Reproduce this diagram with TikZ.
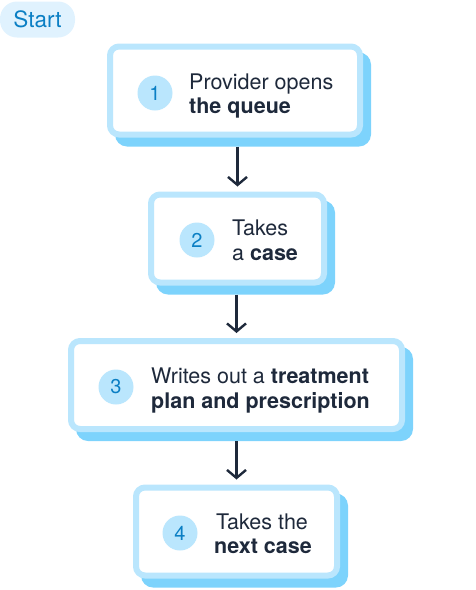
\documentclass[tikz,border=0pt]{standalone}
\usepackage{fontspec}
\setmainfont{TeX Gyre Heros}
\usetikzlibrary{arrows.meta}
\definecolor{skyA}{HTML}{E0F2FE}
\definecolor{skyB}{HTML}{BAE6FD}
\definecolor{skyC}{HTML}{7DD3FC}
\definecolor{numc}{HTML}{0B7FC4}
\definecolor{ink}{HTML}{1E293B}
\tikzset{
  shadowbox/.style={fill=skyC, rounded corners=12pt, inner sep=0pt, minimum width=#1+6pt, minimum height=94pt},
  mainbox/.style={fill=white, draw=skyB, line width=6pt, rounded corners=9pt, inner sep=0pt, minimum width=#1, minimum height=88pt},
  numdot/.style={circle, fill=skyB, minimum size=35pt, inner sep=0pt, text=numc, font=\fontsize{20}{20}\selectfont},
  linetxt/.style={anchor=base west, inner sep=0pt, text=ink, font=\fontsize{21.5}{24}\selectfont},
  arr/.style={draw=ink, line width=2.4pt, -{Straight Barb[length=8pt, width=19pt, line width=2.4pt]}, shorten >=5pt},
  startpill/.style={fill=skyA, rounded corners=17pt, inner sep=0pt, minimum width=75pt, minimum height=36pt, text=numc, font=\fontsize{22.5}{22.5}\selectfont}
}
\begin{document}
\begin{tikzpicture}[x=1pt, y=-1pt]
\useasboundingbox (0,0) rectangle (476,590);
\node[startpill] (start) at (37.5,19.5) {Start};
% shadows
\node[shadowbox=250pt] (s1) at (243,99.5) {};
\node[shadowbox=173pt] (s2) at (245.5,247.5) {};
\node[shadowbox=331pt] (s3) at (244.5,394) {};
\node[shadowbox=201pt] (s4) at (244.5,540.5) {};
% boxes
\node[mainbox=250pt] (b1) at (235,90.5) {};
\node[mainbox=173pt] (b2) at (237.5,238.5) {};
\node[mainbox=331pt] (b3) at (236.5,385) {};
\node[mainbox=201pt] (b4) at (236.5,531.5) {};
% numbers
\node[numdot] (n1) at (155,93) {1};
\node[numdot] (n2) at (197,240) {2};
\node[numdot] (n3) at (116,387) {3};
\node[numdot] (n4) at (180,533) {4};
% texts
\node[linetxt] (t1a) at (189,89) {Provider opens};
\node[linetxt] (t1b) at (189,113) {\textbf{the queue}};
\node[linetxt] (t2a) at (232,235) {Takes};
\node[linetxt] (t2b) at (232,260) {a \textbf{case}};
\node[linetxt] (t3a) at (151,383) {Writes out a \textbf{treatment}};
\node[linetxt] (t3b) at (151,408) {\textbf{plan and prescription}};
\node[linetxt] (t4a) at (216,529) {Takes the};
\node[linetxt] (t4b) at (214,553) {\textbf{next case}};
% arrows
\draw[arr] (s1.south -| b2.north) -- (b2.north);
\draw[arr] (s2.south -| b3.north) -- (b3.north);
\draw[arr] (s3.south -| b4.north) -- (b4.north);
\end{tikzpicture}
\end{document}
